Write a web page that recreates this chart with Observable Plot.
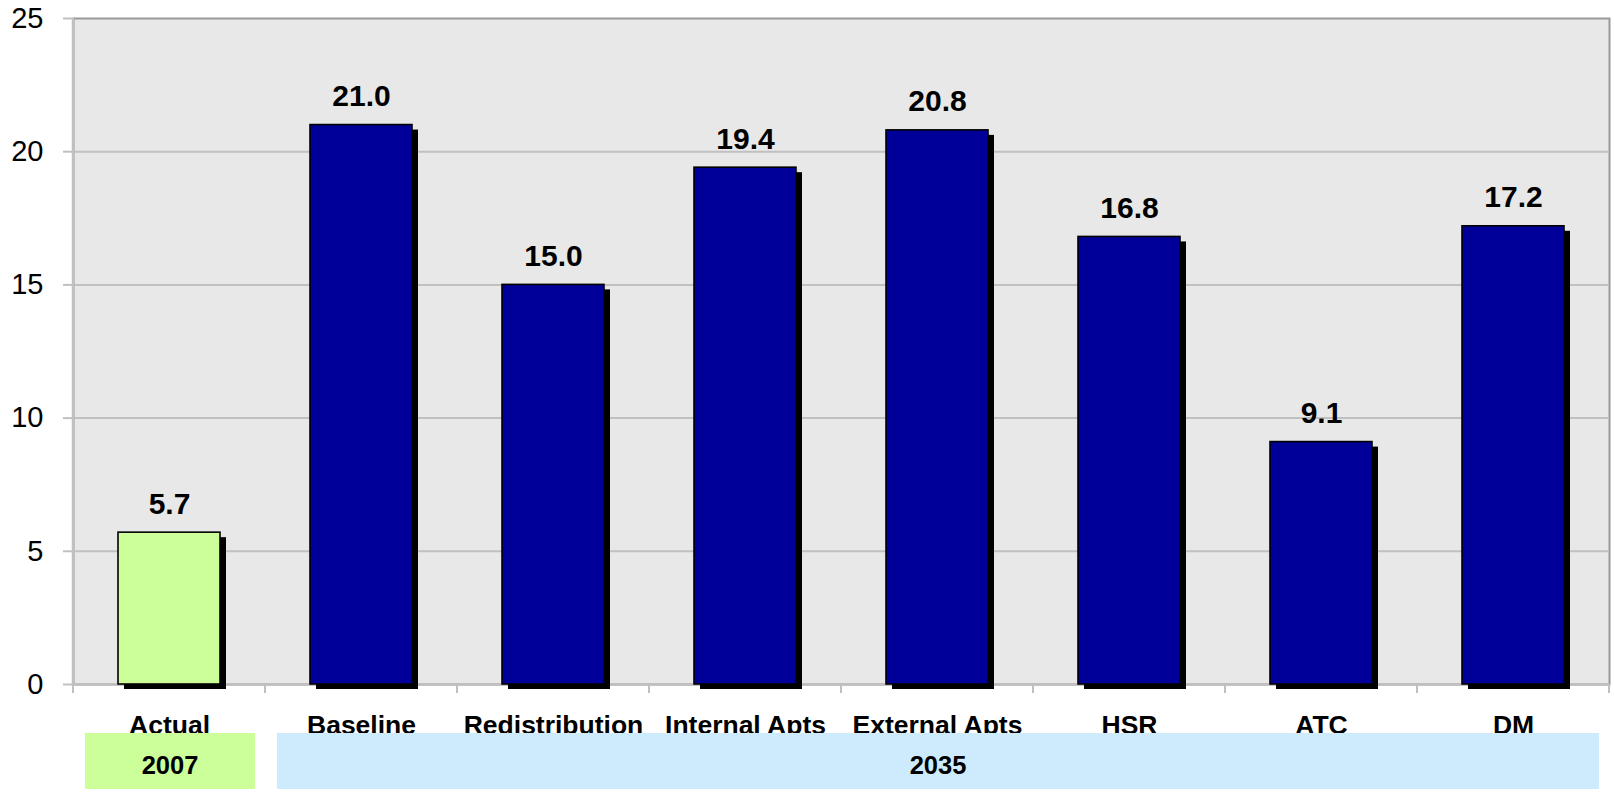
<!DOCTYPE html>
<html>
<head>
<meta charset="utf-8">
<script src="https://cdn.jsdelivr.net/npm/d3@7"></script>
<script src="https://cdn.jsdelivr.net/npm/@observablehq/plot@0.6"></script>
<style>
  html, body { margin: 0; padding: 0; background: #fff; }
  #chart svg { display: block; font-family: "Liberation Sans", Arial, sans-serif; }
</style>
</head>
<body>
<div id="chart"></div>
<script>
// Scenario results: 2007 actual and 2035 forecasts
const categories = ["Actual", "Baseline", "Redistribution", "Internal Apts", "External Apts", "HSR", "ATC", "DM"];
const values = [5.7, 21.0, 15.0, 19.4, 20.8, 16.8, 9.1, 17.2];
const years = ["2007", "2035", "2035", "2035", "2035", "2035", "2035", "2035"];
const yTicks = [0, 5, 10, 15, 20, 25];

// Year groups shown as banners beneath the category labels
const groupLabels = ["2007", "2035"];
const groupFirst = ["Actual", "Baseline"];
const groupLast = ["Actual", "DM"];

const yearColors = {"2007": "#ccff99", "2035": "#000099"};
const bannerColors = {"2007": "#ccff99", "2035": "#cdebfd"};

const rows = categories.map((c, i) => ({category: c, value: values[i], year: years[i]}));
const FONT = '"Liberation Sans", Arial, sans-serif';
const GRID = "#c0c0c0";

const chart = Plot.plot({
  width: 1614,
  height: 793,
  marginLeft: 73,
  marginRight: 5,
  marginTop: 18,
  marginBottom: 109,
  style: {fontFamily: FONT, background: "#fff"},
  x: {domain: categories, paddingInner: 0.47, paddingOuter: 0.235, label: null},
  y: {domain: [0, 25], label: null},
  marks: [
    Plot.frame({fill: "#e8e8e8", stroke: "#999999", strokeWidth: 2}),
    Plot.ruleY(yTicks.filter(d => d > 0 && d < 25), {stroke: GRID, strokeWidth: 2}),
    Plot.ruleY([0], {stroke: GRID, strokeWidth: 2.5}),
    Plot.axisY({
      ticks: yTicks, tickSize: 10, tickPadding: 20, stroke: GRID, strokeWidth: 2,
      fill: "#000", color: "#000", fontSize: 29, tickFormat: d => String(d), label: null
    }),
    Plot.axisX({
      tickSize: 0, tickPadding: 31, fontSize: 26.5, fontWeight: "bold", fill: "#000", label: null
    }),
    // drop shadow behind each bar
    Plot.barY(rows, {x: "category", y: "value", fill: "#000", dx: 6, dy: 5}),
    Plot.barY(rows, {
      x: "category", y: "value", fill: d => yearColors[d.year],
      stroke: "#000", strokeWidth: 1.6
    }),
    Plot.text(rows, {
      x: "category", y: "value", text: d => d.value.toFixed(1),
      lineAnchor: "bottom", dy: -19, fontSize: 30, fontWeight: "bold", fill: "#000"
    })
  ]
});

document.getElementById("chart").appendChild(chart);

// Category boundary ticks, left axis line and year banners drawn from the x scale
const xs = chart.scale("x");
const step = xs.step;
const bw = xs.bandwidth;
const xApply = xs.apply ? xs.apply : (d => xs.range[0] + xs.step * xs.paddingOuter + categories.indexOf(d) * xs.step);
const bandStart = c => xApply(c) - (step - bw) / 2;
const ys = chart.scale("y");
const y0 = ys.apply ? ys.apply(0) : 684;
const yTop = ys.apply ? ys.apply(25) : 18;
const svg = d3.select(chart);

const extra = svg.append("g");
// left axis line
extra.append("line")
  .attr("x1", bandStart(categories[0])).attr("x2", bandStart(categories[0]))
  .attr("y1", yTop).attr("y2", y0)
  .attr("stroke", GRID).attr("stroke-width", 2.5);

// ticks between categories
const bounds = categories.map(bandStart).concat([bandStart(categories[categories.length - 1]) + step]);
extra.selectAll("line.bt").data(bounds).join("line")
  .attr("class", "bt")
  .attr("x1", d => d).attr("x2", d => d)
  .attr("y1", y0).attr("y2", y0 + 9)
  .attr("stroke", GRID).attr("stroke-width", 2);

// year banners
const banners = groupLabels.map((g, i) => ({
  label: g,
  x1: bandStart(groupFirst[i]) + 12,
  x2: bandStart(groupLast[i]) + step - 10
}));
const bg = extra.selectAll("g.banner").data(banners).join("g").attr("class", "banner");
bg.append("rect")
  .attr("x", d => d.x1).attr("width", d => d.x2 - d.x1)
  .attr("y", y0 + 49).attr("height", 56)
  .attr("fill", d => bannerColors[d.label]);
bg.append("text")
  .attr("x", d => (d.x1 + d.x2) / 2).attr("y", y0 + 90)
  .attr("text-anchor", "middle")
  .attr("font-size", 25.5).attr("font-weight", "bold")
  .attr("font-family", FONT).attr("fill", "#000")
  .text(d => d.label);
</script>
</body>
</html>
